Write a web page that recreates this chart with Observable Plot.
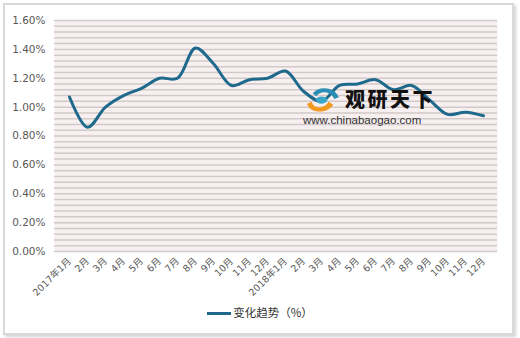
<!DOCTYPE html>
<html>
<head>
<meta charset="utf-8">
<script src="https://cdn.jsdelivr.net/npm/d3@7"></script>
<script src="https://cdn.jsdelivr.net/npm/@observablehq/plot@0.6"></script>
<style>
  html, body { margin: 0; padding: 0; background: #ffffff; }
  #wrap { position: relative; width: 520px; height: 338px; overflow: hidden; font-family: "Noto Sans CJK SC", "DejaVu Sans", sans-serif; }
  #frame { position: absolute; left: 3px; top: 3px; width: 507px; height: 328px; border: 2px solid #d9d9d9; box-shadow: 2px 2px 3px rgba(0,0,0,0.18); background: #fff; }
  #chart { position: absolute; left: 0; top: 0; }
  #legend { position: absolute; left: 0; top: 304px; width: 520px; text-align: center; font-size: 11.5px; color: #333; }
  #legend .sw { display: inline-block; width: 24px; height: 3px; background: #1f6a8c; vertical-align: middle; margin-right: 2px; }
  #wm { position: absolute; left: 300px; top: 86px; width: 150px; height: 44px; pointer-events: none; }
  #wm .t1 { position: absolute; left: 45px; top: 3px; font-size: 20px; line-height: 20px; font-weight: 900; color: #111; letter-spacing: 2.5px; font-family: "Noto Sans CJK SC", sans-serif; white-space: nowrap; }
  #wm .t2 { position: absolute; left: 3px; top: 28px; font-size: 11.5px; line-height: 12px; color: #333; font-family: "Liberation Sans", Arial, sans-serif; white-space: nowrap; }
</style>
</head>
<body>
<div id="wrap">
  <div id="frame"></div>
  <div id="chart"></div>
  <div id="wm">
    <svg width="40" height="28" viewBox="0 0 40 30" style="position:absolute;left:3px;top:0px">
      <path d="M3 19 C 5 29, 24 31, 31 20 L 26 17 C 21 25, 10 25, 8 17 Z" fill="#f29a1f"/>
      <path d="M9 8 C 15 -1, 33 1, 37 12 L 32 14 C 28 5, 17 5, 13 11 Z" fill="#2a8fb5"/>
      <path d="M12 15 C 14 10, 23 10, 25 15 C 23 20, 15 20, 14 17 Z" fill="#3aa7c9"/>
    </svg>
    <div class="t1">观研天下</div>
    <div class="t2">www.chinabaogao.com</div>
  </div>
  <div id="legend"><span class="sw"></span>变化趋势（%）</div>
</div>
<script>
const months = ["2017年1月","2月","3月","4月","5月","6月","7月","8月","9月","10月","11月","12月",
                "2018年1月","2月","3月","4月","5月","6月","7月","8月","9月","10月","11月","12月"];
const keys = months.map((m, i) => (i < 12 ? "a" : "b") + i);
const values = [1.07, 0.86, 1.00, 1.08, 1.13, 1.20, 1.20, 1.41, 1.30, 1.15, 1.19, 1.20,
                1.25, 1.11, 1.04, 1.15, 1.16, 1.19, 1.12, 1.15, 1.05, 0.95, 0.965, 0.94];
const yTicks = [0, 0.2, 0.4, 0.6, 0.8, 1.0, 1.2, 1.4, 1.6];
const gridValues = d3.range(0, 41).map(i => i * 0.04);

const data = keys.map((k, i) => ({key: k, label: months[i], value: values[i]}));
const labelOf = Object.fromEntries(keys.map((k, i) => [k, months[i]]));

const chart = Plot.plot({
  width: 520,
  height: 300,
  marginLeft: 54,
  marginRight: 23,
  marginTop: 20,
  marginBottom: 49,
  style: {background: "transparent", fontFamily: "'DejaVu Sans', 'Noto Sans CJK SC', sans-serif", fontSize: "10px", color: "#595959"},
  x: {type: "band", domain: keys, padding: 0, label: null},
  y: {domain: [0, 1.6], label: null},
  marks: [
    Plot.frame({fill: "#f8f0f0", stroke: null}),
    Plot.ruleY(gridValues, {stroke: "#d2c9c9", strokeWidth: 1.5}),
    Plot.axisY(yTicks, {tickSize: 0, tickPadding: 9, tickFormat: d => d.toFixed(2) + "%", fontSize: 10.5, fill: "#595959"}),
    Plot.axisX({tickSize: 0, tickPadding: 8, tickRotate: -45, tickFormat: k => labelOf[k], fontSize: 9.5, fill: "#595959"}),
    Plot.line(data, {x: "key", y: "value", stroke: "#1f6a8c", strokeWidth: 3, curve: "catmull-rom", strokeLinecap: "round"})
  ]
});
document.getElementById("chart").appendChild(chart);
chart.querySelectorAll("path").forEach(p => {
  if (p.getAttribute("stroke") === "#1f6a8c") p.style.filter = "drop-shadow(2px 3px 2px rgba(0,0,0,0.35))";
});
</script>
</body>
</html>
